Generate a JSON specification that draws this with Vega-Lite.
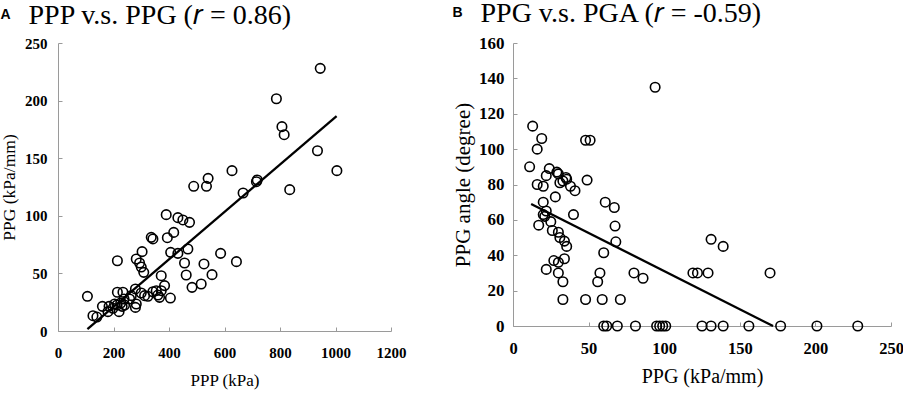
{
  "$schema": "https://vega.github.io/schema/vega-lite/v6.json",
  "background": "white",
  "padding": {"left": 0, "top": 0, "right": 5, "bottom": 5},
  "spacing": 46,
  "config": {
    "view": {"stroke": null},
    "style": {
      "guide-label": {"font": "Liberation Serif", "fontWeight": "bold", "fill": "black"},
      "guide-title": {"font": "Liberation Serif", "fontWeight": "normal", "fill": "black"}
    },
    "axis": {
      "grid": false,
      "domainColor": "#9a9a9a",
      "tickColor": "#9a9a9a",
      "tickSize": -4,
      "labelFont": "Liberation Serif",
      "labelFontWeight": "bold",
      "labelColor": "black",
      "labelFlush": false,
      "labelOverlap": false,
      "titleFont": "Liberation Serif",
      "titleFontWeight": "normal",
      "titleColor": "black",
      "format": "d"
    }
  },
  "datasets": {
    "ppp": [
      {"PPP": 106, "PPG": 30.1}, {"PPP": 126, "PPG": 13.3}, {"PPP": 140, "PPG": 12.1}, {"PPP": 160, "PPG": 21.4},
      {"PPP": 184, "PPG": 21.4}, {"PPP": 180, "PPG": 16.8}, {"PPP": 198, "PPG": 19.7}, {"PPP": 213, "PPG": 22.6},
      {"PPP": 220, "PPG": 16.8}, {"PPP": 226, "PPG": 24.3}, {"PPP": 231, "PPG": 21.4}, {"PPP": 240, "PPG": 22.6},
      {"PPP": 234, "PPG": 33.6}, {"PPP": 214, "PPG": 33.6}, {"PPP": 258, "PPG": 27.8}, {"PPP": 279, "PPG": 20.5},
      {"PPP": 282, "PPG": 23.4}, {"PPP": 279, "PPG": 36.5}, {"PPP": 300, "PPG": 33}, {"PPP": 312, "PPG": 30.7},
      {"PPP": 324, "PPG": 30.1}, {"PPP": 342, "PPG": 34.1}, {"PPP": 354, "PPG": 35}, {"PPP": 360, "PPG": 31.2},
      {"PPP": 366, "PPG": 29.2}, {"PPP": 372, "PPG": 35}, {"PPP": 384, "PPG": 39.4}, {"PPP": 405, "PPG": 28.6},
      {"PPP": 372, "PPG": 48}, {"PPP": 309, "PPG": 50.9}, {"PPP": 300, "PPG": 55.5}, {"PPP": 294, "PPG": 59},
      {"PPP": 282, "PPG": 62.5}, {"PPP": 214, "PPG": 61}, {"PPP": 303, "PPG": 68.9}, {"PPP": 336, "PPG": 81.3},
      {"PPP": 342, "PPG": 79.9}, {"PPP": 394, "PPG": 81}, {"PPP": 417, "PPG": 85.6}, {"PPP": 390, "PPG": 101},
      {"PPP": 432, "PPG": 98.4}, {"PPP": 450, "PPG": 96.4}, {"PPP": 474, "PPG": 94.3}, {"PPP": 406, "PPG": 68.3},
      {"PPP": 432, "PPG": 67.4}, {"PPP": 468, "PPG": 71.2}, {"PPP": 456, "PPG": 59}, {"PPP": 462, "PPG": 48.6},
      {"PPP": 483, "PPG": 37.9}, {"PPP": 516, "PPG": 40.8}, {"PPP": 526, "PPG": 58.2}, {"PPP": 555, "PPG": 48.9},
      {"PPP": 586, "PPG": 67.4}, {"PPP": 643, "PPG": 60.2}, {"PPP": 264, "PPG": 30.7}, {"PPP": 238, "PPG": 27.8},
      {"PPP": 204, "PPG": 23.4}, {"PPP": 945, "PPG": 228}, {"PPP": 787, "PPG": 201.6}, {"PPP": 807, "PPG": 177.4},
      {"PPP": 815, "PPG": 170.4}, {"PPP": 935, "PPG": 156.5}, {"PPP": 1005, "PPG": 139.2}, {"PPP": 489, "PPG": 125.6},
      {"PPP": 535, "PPG": 125.6}, {"PPP": 541, "PPG": 132.5}, {"PPP": 627, "PPG": 139.2}, {"PPP": 667, "PPG": 119.8},
      {"PPP": 715, "PPG": 129.6}, {"PPP": 718, "PPG": 131.1}, {"PPP": 835, "PPG": 122.7}
    ],
    "lineA": [{"PPP": 106, "PPG": 1.7}, {"PPP": 1004, "PPG": 186.5}],
    "ppg": [
      {"PPG": 94, "PGA": 135}, {"PPG": 13, "PGA": 113}, {"PPG": 19, "PGA": 106}, {"PPG": 16, "PGA": 100},
      {"PPG": 48, "PGA": 105}, {"PPG": 51, "PGA": 105}, {"PPG": 11, "PGA": 90}, {"PPG": 24, "PGA": 89},
      {"PPG": 22, "PGA": 85}, {"PPG": 29, "PGA": 87}, {"PPG": 30, "PGA": 86}, {"PPG": 35, "PGA": 84},
      {"PPG": 35.5, "PGA": 83}, {"PPG": 33, "PGA": 82}, {"PPG": 31, "PGA": 81}, {"PPG": 16, "PGA": 80},
      {"PPG": 20, "PGA": 79}, {"PPG": 38, "PGA": 79}, {"PPG": 41, "PGA": 76.5}, {"PPG": 49, "PGA": 82.5},
      {"PPG": 28, "PGA": 73}, {"PPG": 20, "PGA": 70}, {"PPG": 61, "PGA": 70}, {"PPG": 67, "PGA": 67},
      {"PPG": 20, "PGA": 63}, {"PPG": 22, "PGA": 65}, {"PPG": 21, "PGA": 62}, {"PPG": 40, "PGA": 63},
      {"PPG": 17, "PGA": 57}, {"PPG": 25, "PGA": 59}, {"PPG": 26, "PGA": 54}, {"PPG": 30, "PGA": 53},
      {"PPG": 31, "PGA": 50}, {"PPG": 34, "PGA": 48}, {"PPG": 35.5, "PGA": 45}, {"PPG": 67.5, "PGA": 56.5},
      {"PPG": 68, "PGA": 47.6}, {"PPG": 60, "PGA": 41.4}, {"PPG": 34, "PGA": 38}, {"PPG": 27, "PGA": 37},
      {"PPG": 30, "PGA": 36}, {"PPG": 22, "PGA": 32}, {"PPG": 30, "PGA": 30}, {"PPG": 57.5, "PGA": 30},
      {"PPG": 56, "PGA": 25}, {"PPG": 33, "PGA": 25}, {"PPG": 80, "PGA": 30}, {"PPG": 86, "PGA": 27},
      {"PPG": 119, "PGA": 30}, {"PPG": 122, "PGA": 30}, {"PPG": 129, "PGA": 30}, {"PPG": 131, "PGA": 49},
      {"PPG": 139, "PGA": 45}, {"PPG": 170, "PGA": 30}, {"PPG": 33, "PGA": 15}, {"PPG": 48, "PGA": 15},
      {"PPG": 59, "PGA": 15}, {"PPG": 71, "PGA": 15},
      {"PPG": 60, "PGA": 0}, {"PPG": 62, "PGA": 0}, {"PPG": 69, "PGA": 0}, {"PPG": 81, "PGA": 0},
      {"PPG": 95, "PGA": 0}, {"PPG": 97, "PGA": 0}, {"PPG": 99, "PGA": 0}, {"PPG": 101, "PGA": 0},
      {"PPG": 125, "PGA": 0}, {"PPG": 131, "PGA": 0}, {"PPG": 139, "PGA": 0}, {"PPG": 156, "PGA": 0},
      {"PPG": 177, "PGA": 0}, {"PPG": 201, "PGA": 0}, {"PPG": 228, "PGA": 0}
    ],
    "lineB": [{"PPG": 12, "PGA": 69}, {"PPG": 172, "PGA": 0}]
  },
  "hconcat": [
    {
      "width": 333,
      "height": 288,
      "title": {
        "text": "A",
        "subtitle": "\u200b\u00a0\u00a0\u00a0\u00a0PPP v.s. PPG (𝑟 = 0.86)",
        "anchor": "start",
        "frame": "bounds",
        "font": "Liberation Sans",
        "fontSize": 14,
        "fontWeight": "bold",
        "color": "black",
        "subtitleFont": "Liberation Serif",
        "subtitleFontSize": 28,
        "subtitleColor": "black",
        "subtitlePadding": -20,
        "offset": 0
      },
      "encoding": {
        "x": {"field": "PPP", "type": "quantitative", "scale": {"domain": [0, 1200], "nice": false},
          "axis": {"values": [0, 200, 400, 600, 800, 1000, 1200], "title": "PPP (kPa)",
            "labelFont": "Liberation Serif", "labelFontWeight": "bold", "titleFont": "Liberation Serif", "titleFontWeight": "normal",
            "titleFontSize": 17, "labelFontSize": 15, "labelPadding": 18, "titlePadding": 12}},
        "y": {"field": "PPG", "type": "quantitative", "scale": {"domain": [0, 250], "nice": false},
          "axis": {"values": [0, 50, 100, 150, 200, 250], "title": "PPG (kPa/mm)",
            "labelFont": "Liberation Serif", "labelFontWeight": "bold", "titleFont": "Liberation Serif", "titleFontWeight": "normal",
            "titleFontSize": 17.5, "labelFontSize": 15, "labelPadding": 15, "titlePadding": 6}}
      },
      "layer": [
        {
          "data": {"name": "ppp"},
          "mark": {"type": "point", "shape": "circle", "filled": false, "color": "black", "size": 90, "strokeWidth": 1.6, "opacity": 1}
        },
        {
          "data": {"name": "lineA"},
          "mark": {"type": "line", "color": "black", "strokeWidth": 2.3}
        }
      ]
    },
    {
      "width": 378,
      "height": 283,
      "title": {
        "text": "B",
        "subtitle": "\u200b\u00a0\u00a0\u00a0\u00a0PPG v.s. PGA (𝑟 = -0.59)",
        "anchor": "start",
        "frame": "bounds",
        "font": "Liberation Sans",
        "fontSize": 14,
        "fontWeight": "bold",
        "color": "black",
        "subtitleFont": "Liberation Serif",
        "subtitleFontSize": 28,
        "subtitleColor": "black",
        "subtitlePadding": -20,
        "offset": 0
      },
      "encoding": {
        "x": {"field": "PPG", "type": "quantitative", "scale": {"domain": [0, 250], "nice": false},
          "axis": {"values": [0, 50, 100, 150, 200, 250], "title": "PPG (kPa/mm)",
            "labelFont": "Liberation Serif", "labelFontWeight": "bold", "titleFont": "Liberation Serif", "titleFontWeight": "normal",
            "titleFontSize": 20, "labelFontSize": 16.5, "labelPadding": 18, "titlePadding": 10}},
        "y": {"field": "PGA", "type": "quantitative", "scale": {"domain": [0, 160], "nice": false},
          "axis": {"values": [0, 20, 40, 60, 80, 100, 120, 140, 160], "title": "PPG angle (degree)",
            "labelFont": "Liberation Serif", "labelFontWeight": "bold", "titleFont": "Liberation Serif", "titleFontWeight": "normal",
            "titleFontSize": 21, "labelFontSize": 17, "labelPadding": 13, "titlePadding": 5}}
      },
      "layer": [
        {
          "data": {"name": "ppg"},
          "mark": {"type": "point", "shape": "circle", "filled": false, "color": "black", "size": 90, "strokeWidth": 1.6, "opacity": 1}
        },
        {
          "data": {"name": "lineB"},
          "mark": {"type": "line", "color": "black", "strokeWidth": 2.3}
        }
      ]
    }
  ]
}
